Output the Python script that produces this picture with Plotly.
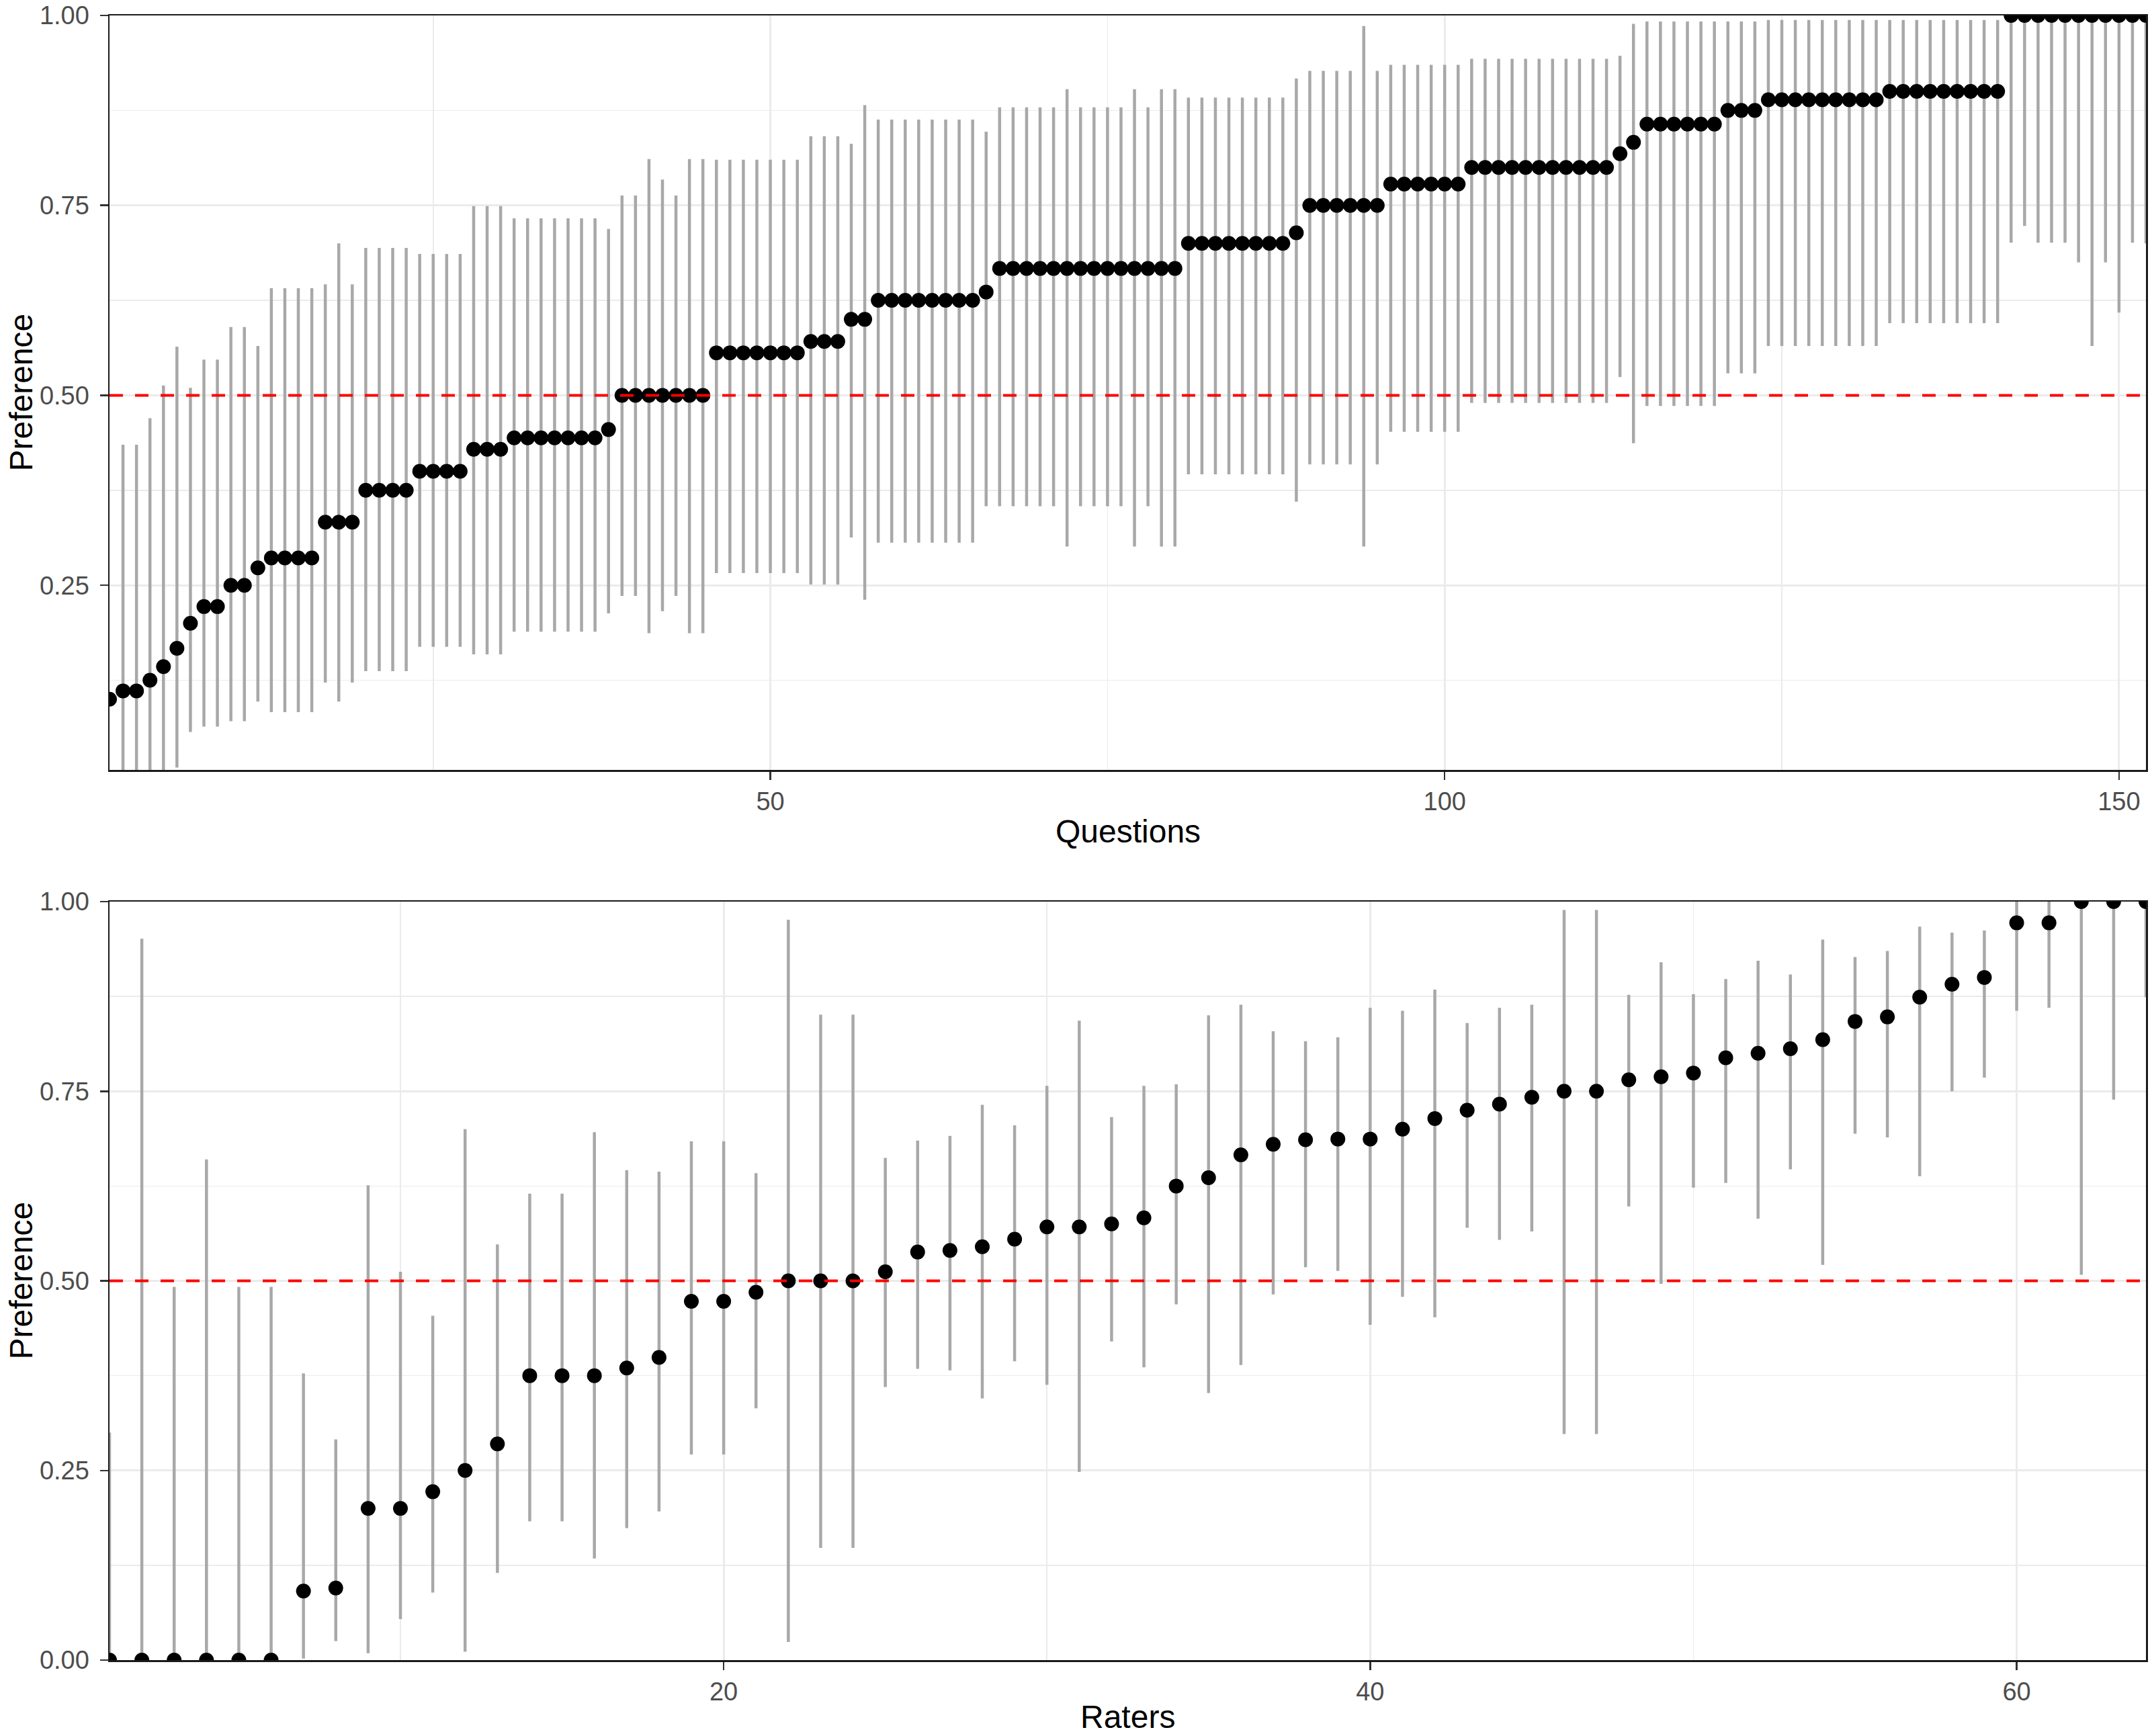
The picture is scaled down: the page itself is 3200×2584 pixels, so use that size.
import numpy as np
import plotly.graph_objects as go

# ---------------- data ----------------
q_pref = [0.100, 0.111, 0.111, 0.125, 0.143, 0.167, 0.200, 0.222, 0.222, 0.250,
          0.250, 0.273, 0.286, 0.286, 0.286, 0.286, 0.333, 0.333, 0.333, 0.375,
          0.375, 0.375, 0.375, 0.400, 0.400, 0.400, 0.400, 0.429, 0.429, 0.429,
          0.444, 0.444, 0.444, 0.444, 0.444, 0.444, 0.444, 0.455, 0.500, 0.500,
          0.500, 0.500, 0.500, 0.500, 0.500, 0.556, 0.556, 0.556, 0.556, 0.556,
          0.556, 0.556, 0.571, 0.571, 0.571, 0.600, 0.600, 0.625, 0.625, 0.625,
          0.625, 0.625, 0.625, 0.625, 0.625, 0.636, 0.667, 0.667, 0.667, 0.667,
          0.667, 0.667, 0.667, 0.667, 0.667, 0.667, 0.667, 0.667, 0.667, 0.667,
          0.700, 0.700, 0.700, 0.700, 0.700, 0.700, 0.700, 0.700, 0.714, 0.750,
          0.750, 0.750, 0.750, 0.750, 0.750, 0.778, 0.778, 0.778, 0.778, 0.778,
          0.778, 0.800, 0.800, 0.800, 0.800, 0.800, 0.800, 0.800, 0.800, 0.800,
          0.800, 0.800, 0.818, 0.833, 0.857, 0.857, 0.857, 0.857, 0.857, 0.857,
          0.875, 0.875, 0.875, 0.889, 0.889, 0.889, 0.889, 0.889, 0.889, 0.889,
          0.889, 0.889, 0.900, 0.900, 0.900, 0.900, 0.900, 0.900, 0.900, 0.900,
          0.900, 1.000, 1.000, 1.000, 1.000, 1.000, 1.000, 1.000, 1.000, 1.000,
          1.000, 1.000]
q_lower = [0.100, 0.000, 0.000, 0.000, 0.000, 0.010, 0.057, 0.064, 0.064, 0.071,
           0.071, 0.097, 0.083, 0.083, 0.083, 0.083, 0.122, 0.097, 0.122, 0.137,
           0.137, 0.137, 0.137, 0.169, 0.169, 0.169, 0.169, 0.159, 0.159, 0.159,
           0.189, 0.189, 0.189, 0.189, 0.189, 0.189, 0.189, 0.213, 0.236, 0.236,
           0.187, 0.216, 0.236, 0.187, 0.187, 0.266, 0.266, 0.266, 0.266, 0.266,
           0.266, 0.266, 0.251, 0.251, 0.251, 0.313, 0.231, 0.306, 0.306, 0.306,
           0.306, 0.306, 0.306, 0.306, 0.306, 0.354, 0.354, 0.354, 0.354, 0.354,
           0.354, 0.301, 0.354, 0.354, 0.354, 0.354, 0.301, 0.354, 0.301, 0.301,
           0.396, 0.396, 0.396, 0.396, 0.396, 0.396, 0.396, 0.396, 0.360, 0.409,
           0.409, 0.409, 0.409, 0.301, 0.409, 0.452, 0.452, 0.452, 0.452, 0.452,
           0.452, 0.490, 0.490, 0.490, 0.490, 0.490, 0.490, 0.490, 0.490, 0.490,
           0.490, 0.490, 0.524, 0.437, 0.486, 0.486, 0.486, 0.486, 0.486, 0.486,
           0.529, 0.529, 0.529, 0.565, 0.565, 0.565, 0.565, 0.565, 0.565, 0.565,
           0.565, 0.565, 0.595, 0.595, 0.595, 0.595, 0.595, 0.595, 0.595, 0.595,
           0.595, 0.701, 0.723, 0.701, 0.701, 0.701, 0.675, 0.565, 0.675, 0.609,
           0.701, 0.700]
q_upper = [0.100, 0.435, 0.435, 0.470, 0.513, 0.564, 0.510, 0.547, 0.547, 0.590,
           0.590, 0.565, 0.641, 0.641, 0.641, 0.641, 0.646, 0.700, 0.646, 0.694,
           0.694, 0.694, 0.694, 0.686, 0.686, 0.686, 0.686, 0.749, 0.749, 0.749,
           0.733, 0.733, 0.733, 0.733, 0.733, 0.733, 0.733, 0.719, 0.763, 0.763,
           0.811, 0.784, 0.763, 0.811, 0.811, 0.810, 0.810, 0.810, 0.810, 0.810,
           0.810, 0.810, 0.841, 0.841, 0.841, 0.831, 0.882, 0.863, 0.863, 0.863,
           0.863, 0.863, 0.863, 0.863, 0.863, 0.847, 0.879, 0.879, 0.879, 0.879,
           0.879, 0.903, 0.879, 0.879, 0.879, 0.879, 0.903, 0.879, 0.903, 0.903,
           0.892, 0.892, 0.892, 0.892, 0.892, 0.892, 0.892, 0.892, 0.917, 0.927,
           0.927, 0.927, 0.927, 0.986, 0.927, 0.935, 0.935, 0.935, 0.935, 0.935,
           0.935, 0.943, 0.943, 0.943, 0.943, 0.943, 0.943, 0.943, 0.943, 0.943,
           0.943, 0.943, 0.947, 0.989, 0.992, 0.992, 0.992, 0.992, 0.992, 0.992,
           0.992, 0.992, 0.992, 0.994, 0.994, 0.994, 0.994, 0.994, 0.994, 0.994,
           0.994, 0.994, 0.994, 0.994, 0.994, 0.994, 0.994, 0.994, 0.994, 0.994,
           0.994, 1.000, 1.000, 1.000, 1.000, 1.000, 1.000, 1.000, 1.000, 1.000,
           1.000, 1.000]

r_pref = [0.000, 0.000, 0.000, 0.000, 0.000, 0.000, 0.091, 0.095, 0.200, 0.200,
          0.222, 0.250, 0.285, 0.375, 0.375, 0.375, 0.385, 0.399, 0.473, 0.473,
          0.485, 0.500, 0.500, 0.500, 0.512, 0.538, 0.540, 0.545, 0.555, 0.571,
          0.571, 0.575, 0.583, 0.625, 0.636, 0.666, 0.680, 0.686, 0.687, 0.687,
          0.700, 0.714, 0.725, 0.733, 0.742, 0.750, 0.750, 0.765, 0.769, 0.774,
          0.794, 0.800, 0.806, 0.818, 0.842, 0.848, 0.874, 0.891, 0.900, 0.972,
          0.972, 1.000, 1.000, 1.000]
r_lower = [0.000, 0.000, 0.000, 0.000, 0.000, 0.000, 0.002, 0.025, 0.009, 0.054,
           0.089, 0.011, 0.115, 0.183, 0.183, 0.134, 0.174, 0.196, 0.271, 0.271,
           0.332, 0.024, 0.148, 0.148, 0.360, 0.384, 0.382, 0.345, 0.394, 0.363,
           0.248, 0.420, 0.386, 0.469, 0.352, 0.389, 0.482, 0.518, 0.513, 0.442,
           0.479, 0.452, 0.570, 0.554, 0.565, 0.298, 0.298, 0.598, 0.496, 0.623,
           0.629, 0.582, 0.647, 0.521, 0.694, 0.689, 0.638, 0.750, 0.768, 0.856,
           0.860, 0.508, 0.739, 0.874]
r_upper = [0.300, 0.951, 0.492, 0.660, 0.492, 0.492, 0.378, 0.291, 0.626, 0.512,
           0.454, 0.700, 0.548, 0.615, 0.615, 0.696, 0.646, 0.644, 0.684, 0.684,
           0.642, 0.976, 0.851, 0.851, 0.662, 0.685, 0.691, 0.732, 0.705, 0.757,
           0.843, 0.716, 0.757, 0.759, 0.850, 0.864, 0.829, 0.816, 0.821, 0.860,
           0.856, 0.884, 0.840, 0.860, 0.864, 0.989, 0.989, 0.877, 0.920, 0.878,
           0.898, 0.922, 0.904, 0.950, 0.927, 0.935, 0.967, 0.959, 0.962, 1.000,
           1.000, 1.000, 1.000, 1.000]

REF_LEVEL = 0.5

q_xticks = [50, 100, 150]
q_xminor = [25, 75, 125]
r_xticks = [20, 40, 60]
r_xminor = [10, 30, 50]
q_yticks = [0.25, 0.50, 0.75, 1.00]
q_yticktext = ["0.25", "0.50", "0.75", "1.00"]
r_yticks = [0.00, 0.25, 0.50, 0.75, 1.00]
r_yticktext = ["0.00", "0.25", "0.50", "0.75", "1.00"]
y_minor = [0.125, 0.375, 0.625, 0.875]

# ---------------- figure ----------------
W, H = 3200, 2584
FONT = "Liberation Sans, Arial, Helvetica, sans-serif"
BAR = "#A8A8A8"
GRID = "#EBEBEB"


def trace(pref, lo, hi, xa, ya):
    p = np.array(pref)
    n = len(p)
    x = np.arange(1, n + 1)
    return go.Scatter(
        x=x, y=p, mode="markers", xaxis=xa, yaxis=ya,
        marker=dict(color="black", size=22, line=dict(width=0)),
        error_y=dict(type="data", symmetric=False,
                     array=np.array(hi) - p, arrayminus=p - np.array(lo),
                     color=BAR, thickness=4.5, width=0),
        cliponaxis=True, showlegend=False, hoverinfo="skip")


fig = go.Figure()
fig.add_trace(trace(q_pref, q_lower, q_upper, "x", "y"))
fig.add_trace(trace(r_pref, r_lower, r_upper, "x2", "y2"))

x_dom = [163 / W, 3194 / W]
y1_dom = [1 - 1146 / H, 1 - 23 / H]
y2_dom = [1 - 2471 / H, 1 - 1342 / H]

tickfont = dict(family=FONT, size=38, color="#4D4D4D")
common = dict(showgrid=True, gridcolor=GRID, gridwidth=3, zeroline=False,
              showline=True, mirror=True, linecolor="#1A1A1A", linewidth=2.5,
              ticks="outside", ticklen=12, tickwidth=2.5, tickcolor="#333333",
              tickfont=tickfont, tickmode="array", automargin=False,
              ticklabeloverflow="allow", layer="above traces")

fig.update_layout(
    width=W, height=H, autosize=False,
    margin=dict(l=0, r=0, t=0, b=0, autoexpand=False),
    paper_bgcolor="white", plot_bgcolor="white",
    xaxis=dict(domain=x_dom, anchor="y", range=[1, len(q_pref)],
               tickvals=q_xticks, ticktext=[str(v) for v in q_xticks],
               minor=dict(tickvals=q_xminor, showgrid=True, gridcolor=GRID,
                          gridwidth=1.5, ticks=""), **common),
    yaxis=dict(domain=y1_dom, anchor="x", range=[0.007, 1.0],
               tickvals=q_yticks, ticktext=q_yticktext, ticklabelstandoff=8,
               minor=dict(tickvals=y_minor, showgrid=True, gridcolor=GRID,
                          gridwidth=1.5, ticks=""), **common),
    xaxis2=dict(domain=x_dom, anchor="y2", range=[1, len(r_pref)],
                tickvals=r_xticks, ticktext=[str(v) for v in r_xticks],
                minor=dict(tickvals=r_xminor, showgrid=True, gridcolor=GRID,
                           gridwidth=1.5, ticks=""), **common),
    yaxis2=dict(domain=y2_dom, anchor="x2", range=[0.0, 1.0],
                tickvals=r_yticks, ticktext=r_yticktext, ticklabelstandoff=8,
                minor=dict(tickvals=y_minor, showgrid=True, gridcolor=GRID,
                           gridwidth=1.5, ticks=""), **common),
)

# reference lines at 0.5
for xr, yr in (("x domain", "y"), ("x2 domain", "y2")):
    fig.add_shape(type="line", xref=xr, yref=yr, x0=0, x1=1,
                  y0=REF_LEVEL, y1=REF_LEVEL, layer="above",
                  line=dict(color="#FF0000", width=4, dash="20px,18px"))

# axis titles
title_font = dict(family=FONT, size=48, color="black")
xc = (x_dom[0] + x_dom[1]) / 2
fig.add_annotation(text="Questions", x=xc, y=1 - 1237 / H, xref="paper", yref="paper",
                   showarrow=False, font=title_font, xanchor="center", yanchor="middle")
fig.add_annotation(text="Raters", x=xc, y=0.0, xref="paper", yref="paper",
                   showarrow=False, font=title_font, xanchor="center", yanchor="bottom")
for dom in (y1_dom, y2_dom):
    fig.add_annotation(text="Preference", x=31 / W, y=(dom[0] + dom[1]) / 2,
                       xref="paper", yref="paper", textangle=-90, showarrow=False,
                       font=title_font, xanchor="center", yanchor="middle")

fig.write_html("out.html",
               config={"displayModeBar": False, "staticPlot": True},
               post_script="document.body.style.margin='0px';"
                           "document.body.style.overflow='hidden';")
